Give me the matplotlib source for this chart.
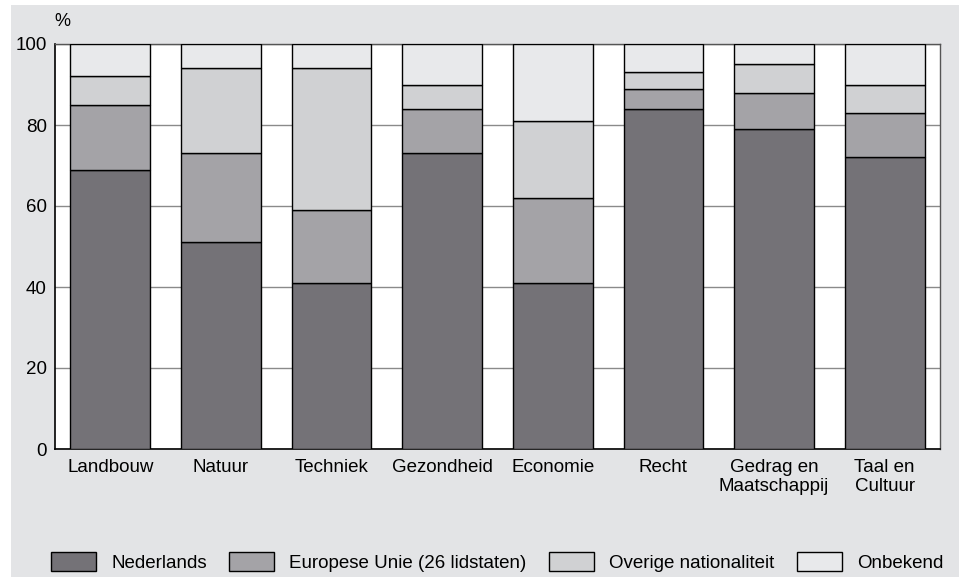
import matplotlib.pyplot as plt
import numpy as np
from matplotlib.patches import Rectangle

plt.rcParams['font.family'] = ['Liberation Sans', 'DejaVu Sans']

# ------------------------------------------------------------
# Data
# ------------------------------------------------------------
categories = ["Landbouw", "Natuur", "Techniek", "Gezondheid", "Economie",
              "Recht", "Gedrag en\nMaatschappij", "Taal en\nCultuur"]

nederlands = [69, 51, 41, 73, 41, 84, 79, 72]
europese_unie = [16, 22, 18, 11, 21, 5, 9, 11]
overige = [7, 21, 35, 6, 19, 4, 7, 7]
onbekend = [8, 6, 6, 10, 19, 7, 5, 10]

series_labels = ["Nederlands", "Europese Unie (26 lidstaten)",
                 "Overige nationaliteit", "Onbekend"]
colors = ["#747277", "#a4a3a7", "#d0d1d3", "#e8e9eb"]

# ------------------------------------------------------------
# Figure
# ------------------------------------------------------------
fig = plt.figure(figsize=(9.59, 5.77), dpi=100)
fig.patch.set_facecolor("white")
fig.patches.append(Rectangle((11 / 959, 0), 1, 1 - 5 / 577,
                             transform=fig.transFigure,
                             facecolor="#e3e4e6", edgecolor="none", zorder=-10))

ax = fig.add_axes([55 / 959, 1 - 449 / 577, (940 - 55) / 959, (449 - 44) / 577])
ax.set_facecolor("white")

x = np.arange(len(categories))
bottom = np.zeros(len(categories))
for values, label, color in zip([nederlands, europese_unie, overige, onbekend],
                                series_labels, colors):
    ax.bar(x, values, width=0.72, bottom=bottom, color=color,
           edgecolor="black", linewidth=1, label=label, zorder=3)
    bottom += np.array(values)

ax.set_xlim(-0.5, 7.5)
ax.set_ylim(0, 100)
ax.set_yticks([0, 20, 40, 60, 80, 100])
ax.yaxis.grid(True, color="#8a8a8a", linewidth=1)
ax.set_axisbelow(True)

ax.set_xticks(x)
ax.set_xticklabels(categories, fontsize=13.5, linespacing=1.2)
ax.tick_params(axis="both", length=0, labelsize=13.5)
ax.tick_params(axis="x", pad=7)
ax.tick_params(axis="y", pad=6)

for side in ["left", "bottom"]:
    ax.spines[side].set_color("black")
    ax.spines[side].set_linewidth(1.2)
for side in ["top", "right"]:
    ax.spines[side].set_color("#555555")
    ax.spines[side].set_linewidth(1)

fig.text(54 / 959, 1 - 22 / 577, "%", fontsize=13, ha="left", va="center")

fig.legend(loc="center", bbox_to_anchor=(497 / 959, 1 - 562 / 577), ncol=4,
           frameon=False, fontsize=13.5, handlelength=2.4, handleheight=1.2,
           columnspacing=1.2, handletextpad=0.8, borderpad=0, borderaxespad=0)

plt.savefig("out.png", dpi=100)
